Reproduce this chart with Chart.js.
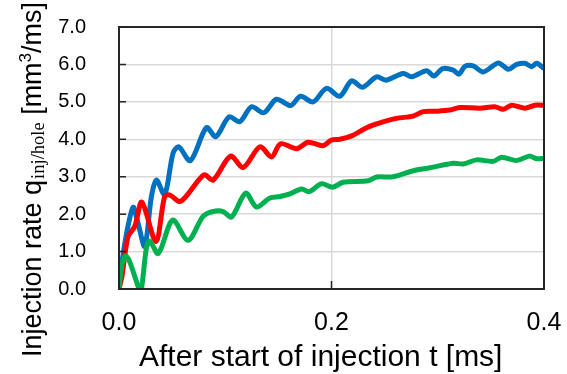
<!DOCTYPE html>
<html>
<head>
<meta charset="utf-8">
<script src="https://cdn.jsdelivr.net/npm/chart.js@4/dist/chart.umd.min.js"></script>
<style>
  html, body { margin: 0; padding: 0; background: #ffffff; }
  #wrap { width: 567px; height: 374px; }
</style>
</head>
<body>
<div id="wrap"><canvas id="c" width="567" height="374"></canvas></div>
<script>
// Injection rate per hole vs. time after start of injection, three cases.
const xTicks = [0.0, 0.2, 0.4];
const yTicks = [0, 1, 2, 3, 4, 5, 6, 7];

const blueT = [0.000, 0.005, 0.0132, 0.018, 0.0242, 0.0305, 0.0352, 0.043, 0.0509, 0.0562, 0.0672, 0.0823, 0.0911,
  0.1036, 0.1137, 0.1247, 0.1363, 0.1482, 0.1616, 0.1708, 0.1827, 0.1953, 0.2078, 0.2189, 0.2292, 0.2424,
  0.2512, 0.2675, 0.2754, 0.2895, 0.2964, 0.3046, 0.3146, 0.3199, 0.3256, 0.3334, 0.3429, 0.3570, 0.3664,
  0.3743, 0.3821, 0.3884, 0.3931, 0.4000];
const blueQ = [0.00, 1.14, 2.18, 1.75, 1.14, 2.47, 2.91, 2.52, 3.63, 3.80, 3.43, 4.31, 4.07,
  4.60, 4.47, 4.87, 4.71, 5.07, 4.90, 5.15, 5.00, 5.36, 5.15, 5.56, 5.39, 5.67,
  5.58, 5.76, 5.67, 5.83, 5.69, 5.89, 5.85, 5.74, 5.95, 5.96, 5.80, 6.04, 5.87,
  6.00, 6.03, 5.94, 6.03, 5.89];

const redT = [0.000, 0.0028, 0.0085, 0.0148, 0.0215, 0.0348, 0.043, 0.048, 0.0580, 0.0800, 0.0886, 0.1050, 0.1170,
  0.1326, 0.1436, 0.1520, 0.1671, 0.1780, 0.1921, 0.2000, 0.2078, 0.2189, 0.2330, 0.2455, 0.2612,
  0.2769, 0.2863, 0.2989, 0.3114, 0.3208, 0.3396, 0.3537, 0.3617, 0.3695, 0.3821, 0.3915, 0.4000];
const redQ = [0.00, 0.34, 1.40, 1.67, 2.32, 1.27, 2.47, 2.51, 2.34, 3.05, 2.91, 3.55, 3.25,
  3.80, 3.53, 3.88, 3.75, 3.92, 3.83, 3.98, 4.00, 4.09, 4.31, 4.44, 4.56,
  4.62, 4.74, 4.75, 4.78, 4.85, 4.83, 4.87, 4.80, 4.91, 4.83, 4.91, 4.91];

const greenT = [0.000, 0.0025, 0.0060, 0.0090, 0.0148, 0.0190, 0.0211, 0.0258, 0.0289, 0.0370, 0.0505, 0.0650,
  0.0791, 0.0886, 0.0980, 0.1059, 0.1193, 0.1294, 0.1420, 0.1514, 0.1608, 0.1718, 0.1790, 0.1906,
  0.2010, 0.2110, 0.2346, 0.2425, 0.2581, 0.2769, 0.2927, 0.3146, 0.3240, 0.3366, 0.3523, 0.3602,
  0.3743, 0.3862, 0.3931, 0.4000];
const greenQ = [0.00, 0.60, 0.88, 0.80, 0.34, 0.00, 0.00, 1.10, 1.28, 0.95, 1.84, 1.30,
  1.94, 2.07, 2.07, 1.92, 2.56, 2.19, 2.43, 2.47, 2.54, 2.67, 2.60, 2.81,
  2.72, 2.85, 2.89, 2.99, 3.00, 3.16, 3.24, 3.36, 3.34, 3.45, 3.41, 3.52,
  3.43, 3.55, 3.48, 3.49];

const pts = (t, q) => t.map((v, i) => ({ x: v, y: q[i] }));

const FONT = '"Liberation Sans", Arial, sans-serif';
const SERIF = '"Liberation Serif", "Times New Roman", serif';

// Frame, inward tick marks and axis titles
const decor = {
  id: 'decor',
  afterDatasetsDraw(chart) {
    const { ctx, chartArea: a, scales } = chart;
    ctx.save();
    ctx.strokeStyle = '#262626';
    ctx.lineWidth = 2;
    ctx.strokeRect(a.left, a.top, a.right - a.left, a.bottom - a.top);
    ctx.lineWidth = 1.5;
    ctx.beginPath();
    yTicks.forEach(v => {
      const y = scales.y.getPixelForValue(v);
      ctx.moveTo(a.left, y); ctx.lineTo(a.left + 7, y);
    });
    xTicks.forEach(v => {
      const x = scales.x.getPixelForValue(v);
      ctx.moveTo(x, a.bottom); ctx.lineTo(x, a.bottom - 8);
    });
    ctx.stroke();
    ctx.restore();
  },
  afterDraw(chart) {
    const { ctx } = chart;
    ctx.save();
    ctx.fillStyle = '#000000';
    ctx.textBaseline = 'alphabetic';
    ctx.textAlign = 'left';
    // x title
    ctx.font = '30px ' + FONT;
    ctx.fillText('After start of injection t [ms]', 139, 366);
    // y title (rotated, with subscript and superscript)
    ctx.translate(41, 357);
    ctx.rotate(-Math.PI / 2);
    let x = 0;
    ctx.font = '27px ' + FONT;
    const p1 = 'Injection rate q';
    ctx.fillText(p1, x, 0); x += ctx.measureText(p1).width;
    ctx.font = '18.5px ' + SERIF;
    const sub = 'inj/hole';
    ctx.fillText(sub, x + 1, 3); x += ctx.measureText(sub).width + 1;
    ctx.font = '27px ' + FONT;
    const p2 = ' [mm';
    ctx.fillText(p2, x, 0); x += ctx.measureText(p2).width;
    ctx.font = '17px ' + FONT;
    ctx.fillText('3', x, -10); x += ctx.measureText('3').width;
    ctx.font = '27px ' + FONT;
    ctx.fillText('/ms]', x, 0);
    ctx.restore();
  }
};

const line = (label, data, color) => ({
  label, data,
  borderColor: color,
  backgroundColor: color,
  borderWidth: 5,
  pointRadius: 0,
  tension: 0.3,
  fill: false
});

const noPad = s => { s.paddingLeft = 0; s.paddingRight = 0; s.paddingTop = 0; s.paddingBottom = 0; };

new Chart(document.getElementById('c'), {
  type: 'line',
  data: {
    datasets: [
      line('Case A', pts(greenT, greenQ), '#00B050'),
      line('Case B', pts(redT, redQ), '#FF0000'),
      line('Case C', pts(blueT, blueQ), '#0070C0')
    ]
  },
  options: {
    responsive: false,
    devicePixelRatio: 1,
    animation: false,
    layout: { padding: { left: 0, right: 23, top: 27, bottom: 0 } },
    plugins: { legend: { display: false }, tooltip: { enabled: false } },
    scales: {
      x: {
        type: 'linear',
        min: 0, max: 0.4,
        afterBuildTicks: s => { s.ticks = xTicks.map(v => ({ value: v })); },
        afterFit: s => { s.height = 85; noPad(s); },
        grid: { color: '#d9d9d9', lineWidth: 1.5, drawTicks: false },
        border: { display: false },
        ticks: {
          color: '#000000',
          font: { family: FONT, size: 25 },
          padding: 19,
          maxRotation: 0,
          callback: v => Number(v).toFixed(1)
        }
      },
      y: {
        min: 0, max: 7,
        afterBuildTicks: s => { s.ticks = yTicks.map(v => ({ value: v })); },
        afterFit: s => { s.width = 119; noPad(s); },
        grid: { color: '#d9d9d9', lineWidth: 1.5, drawTicks: false },
        border: { display: false },
        ticks: {
          color: '#000000',
          font: { family: FONT, size: 20 },
          padding: 33,
          callback: v => Number(v).toFixed(1)
        }
      }
    }
  },
  plugins: [decor]
});
</script>
</body>
</html>
